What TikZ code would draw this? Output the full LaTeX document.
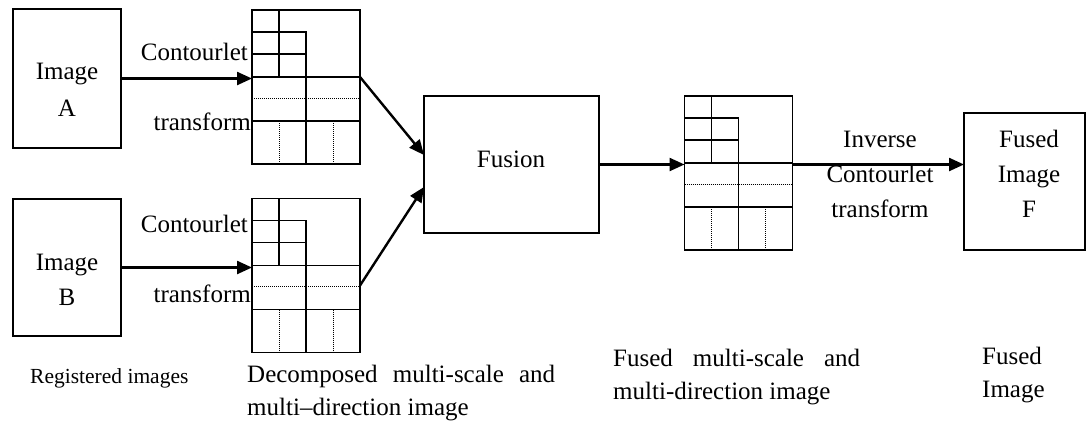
\documentclass[tikz,border=0pt]{standalone}
\usepackage{fontspec}
\setmainfont{Liberation Serif}
\usetikzlibrary{arrows.meta,calc}
\newcommand\subbandgrid[1]{%
  \begin{scope}[shift={(#1.north west)}]
    \draw[innerline] (27,0) -- (27,67);
    \draw[innerline] (0,22) -- (54,22) -- (54,154);
    \draw[innerline] (0,44) -- (54,44);
    \draw[innerline] (0,67) -- (108,67);
    \draw[dotline] (0,88) -- (108,88);
    \draw[innerline] (0,111) -- (108,111);
    \draw[dotline] (27,111) -- (27,154);
    \draw[dotline] (81,111) -- (81,154);
  \end{scope}}
\begin{document}
\begin{tikzpicture}[x=1pt,y=-1pt,
  box/.style={draw, line width=1.8pt, outer sep=0pt, inner sep=0pt},
  gridbox/.style={draw, line width=1.8pt, outer sep=0pt, inner sep=0pt, minimum width=108pt, minimum height=154pt},
  innerline/.style={line width=1.6pt},
  dotline/.style={line width=1pt, densely dotted},
  arr/.style={line width=2.4pt, -{Triangle[length=15pt,width=13pt]}},
  txt/.style={font=\fontsize{25}{35}\selectfont, inner sep=0pt, align=center},
  small/.style={font=\fontsize{21.5}{26}\selectfont, inner sep=0pt},
  bottom/.style={font=\fontsize{25}{32.5}\selectfont, inner sep=0pt, align=left}]
\useasboundingbox (0,0) rectangle (1088,424);
\fill[white] (0,0) rectangle (1088,424);

% input images
\node[box, minimum width=108pt, minimum height=139pt] (boxA) at (67,78.5) {};
\node[txt, font=\fontsize{25}{37}\selectfont] (labA) at (67,90) {Image\\A};
\node[box, minimum width=108pt, minimum height=137pt] (boxB) at (67,267.5) {};
\node[txt, font=\fontsize{25}{35}\selectfont] (labB) at (67,280) {Image\\B};

% decomposed grids
\node[gridbox] (gA) at (306,87) {};
\subbandgrid{gA}
\node[gridbox] (gB) at (306,275.5) {};
\subbandgrid{gB}

% fusion
\node[box, minimum width=175pt, minimum height=137pt] (fusion) at (511.5,164.5) {};
\node[txt] (labFusion) at (511,159) {Fusion};

% fused grid
\node[gridbox] (gC) at (738.5,173) {};
\subbandgrid{gC}

% fused image
\node[box, minimum width=121pt, minimum height=137pt] (fused) at (1024.5,181.5) {};
\node[txt] (labF) at (1029,174) {Fused\\Image\\F};

% transform labels
\node[txt, anchor=east] (ctA) at (248,52) {Contourlet};
\node[txt, anchor=east] (trA) at (251,122) {transform};
\node[txt, anchor=east] (ctB) at (248,224) {Contourlet};
\node[txt, anchor=east] (trB) at (251,294) {transform};
\node[txt] (inv) at (880,174) {Inverse\\Contourlet\\transform};

% connectors
\coordinate (gAout) at ($(gA.north east)+(0,67)$);
\coordinate (gBout) at ($(gB.north east)+(0,87)$);
\coordinate (fusInA) at ($(fusion.west)+(0,-9.5)$);
\coordinate (fusInB) at ($(fusion.west)+(0,22.5)$);
\draw[arr] (boxA.east) -- (boxA.east -| gA.west);
\draw[arr] (boxB.east) -- (boxB.east -| gB.west);
\draw[arr] (gAout) -- (fusInA);
\draw[arr] (gBout) -- (fusInB);
\draw[arr] (fusion.east) -- (fusion.east -| gC.west);
\draw[arr] (fusion.east -| gC.east) -- (fusion.east -| fused.west);

% bottom captions
\node[small, anchor=west] (capReg) at (30,378) {Registered images};
\node[bottom, anchor=north west] (capDec) at (247,365) {\hbox to 308pt{Decomposed\hfill multi-scale\hfill and}\\multi–direction image};
\node[bottom, anchor=north west] (capFus) at (613,349) {\hbox to 247pt{Fused\hfill multi-scale\hfill and}\\multi-direction image};
\node[bottom, anchor=north west] (capImg) at (982,347) {Fused\\Image};
\end{tikzpicture}
\end{document}
